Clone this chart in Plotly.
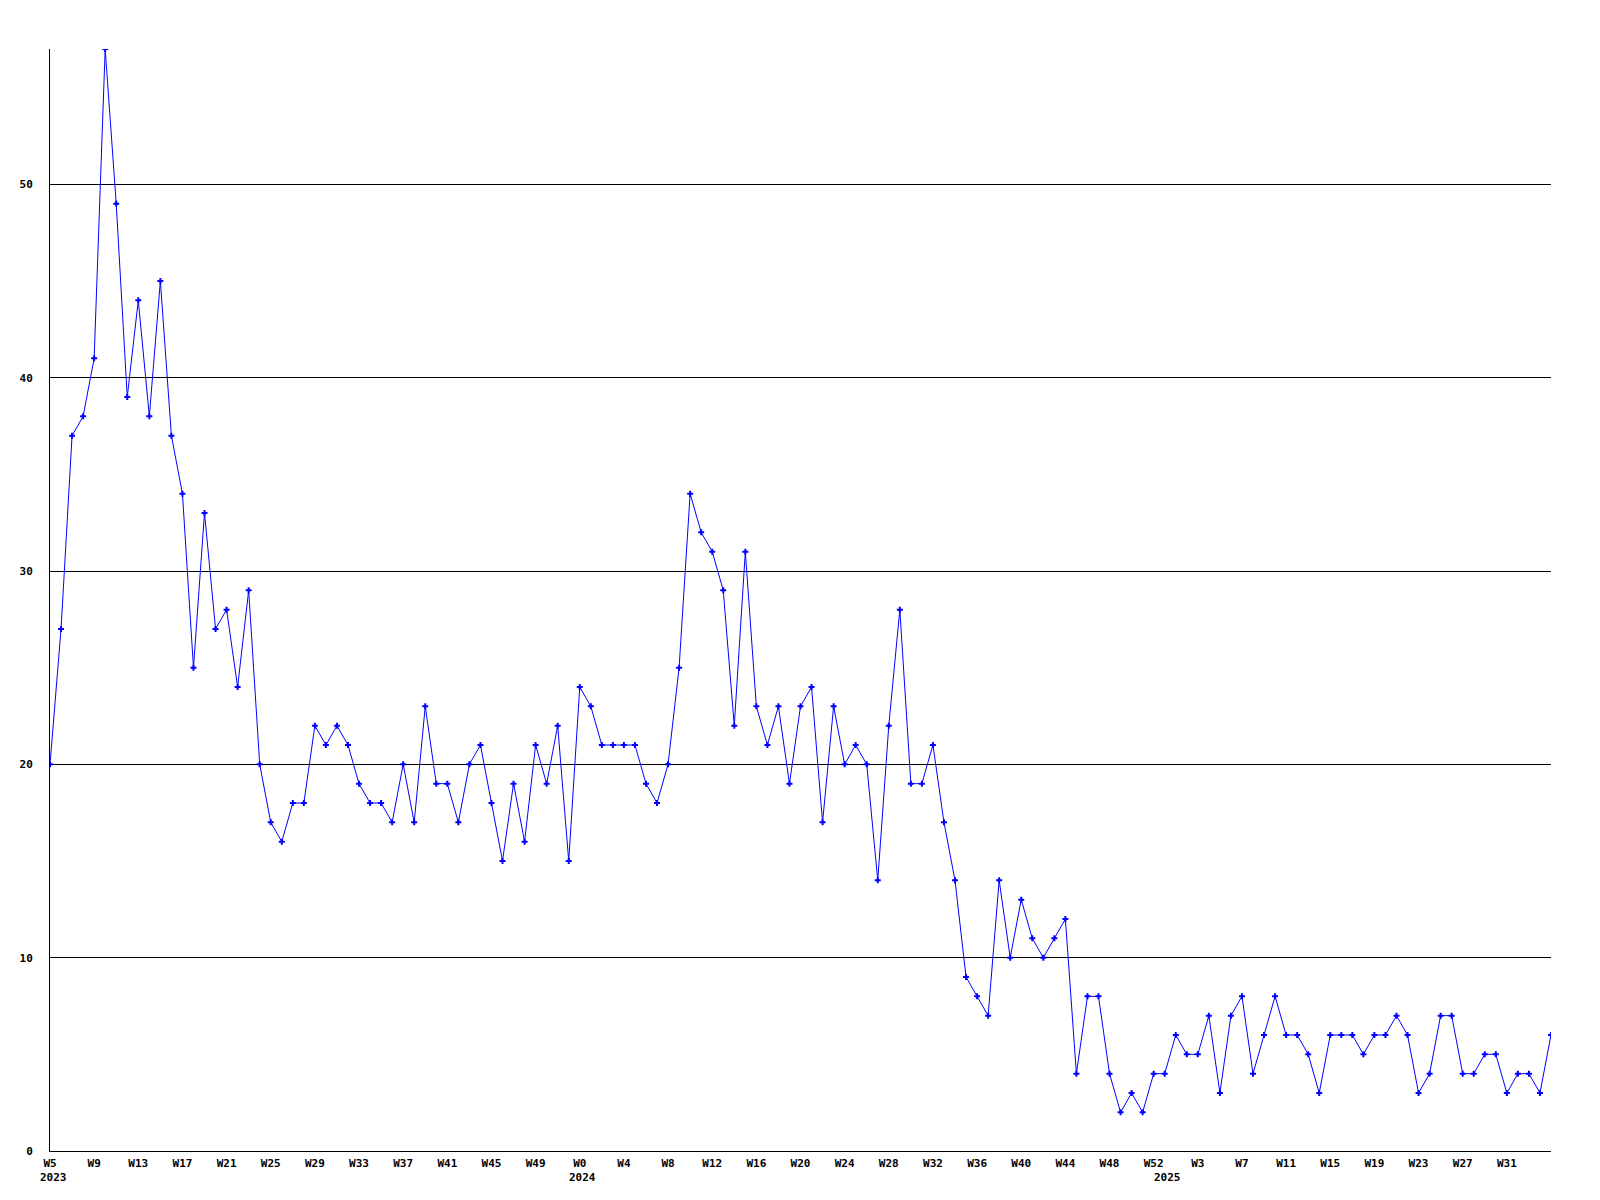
import plotly.graph_objects as go

# Week numbers per year (as labelled on the x axis)
weeks_2023 = list(range(5, 53))   # W5 .. W52
weeks_2024 = list(range(0, 53))   # W0 .. W52
weeks_2025 = list(range(0, 36))   # W0 .. W35

# Weekly counts
counts_2023 = [20, 27, 37, 38, 41, 57, 49, 39, 44, 38,
               45, 37, 34, 25, 33, 27, 28, 24, 29, 20,
               17, 16, 18, 18, 22, 21, 22, 21, 19, 18,
               18, 17, 20, 17, 23, 19, 19, 17, 20, 21,
               18, 15, 19, 16, 21, 19, 22, 15]
counts_2024 = [24, 23, 21, 21, 21, 21, 19, 18, 20, 25,
               34, 32, 31, 29, 22, 31, 23, 21, 23, 19,
               23, 24, 17, 23, 20, 21, 20, 14, 22, 28,
               19, 19, 21, 17, 14, 9, 8, 7, 14, 10,
               13, 11, 10, 11, 12, 4, 8, 8, 4, 2,
               3, 2, 4]
counts_2025 = [4, 6, 5, 5, 7, 3, 7, 8, 4, 6,
               8, 6, 6, 5, 3, 6, 6, 6, 5, 6,
               6, 7, 6, 3, 4, 7, 7, 4, 4, 5,
               5, 3, 4, 4, 3, 6]

years = ["2023", "2024", "2025"]
y_ticks = [0, 10, 20, 30, 40, 50]

week_labels = ([f"W{w}" for w in weeks_2023] + [f"W{w}" for w in weeks_2024]
               + [f"W{w}" for w in weeks_2025])
values = counts_2023 + counts_2024 + counts_2025
idx = list(range(len(values)))
year_starts = [0, len(counts_2023), len(counts_2023) + len(counts_2024)]

# every 4th week gets a label, except the final (partially shown) point
tick_idx = [i for i in idx[::4] if i < len(values) - 1]
tick_txt = [week_labels[i] for i in tick_idx]

FONT = dict(family="DejaVu Sans Mono", size=11, color="black", weight="bold")

fig = go.Figure()
fig.add_trace(go.Scatter(
    x=idx, y=values, mode="lines+markers",
    line=dict(color="#0000ff", width=1),
    marker=dict(symbol="cross", size=5, color="#0000ff", line=dict(width=0)),
    hoverinfo="x+y", showlegend=False,
))

annotations = []
for yr, s in zip(years, year_starts):
    annotations.append(dict(
        x=s, y=0, xref="x", yref="paper", text=yr, showarrow=False,
        xanchor="center", yanchor="middle", xshift=3, yshift=-26, font=FONT,
    ))

fig.update_layout(
    width=1584, height=1184, autosize=False,
    margin=dict(l=42, r=41, t=41, b=41, pad=0),
    paper_bgcolor="white", plot_bgcolor="white",
    font=FONT,
    annotations=annotations,
    xaxis=dict(
        range=[0, len(values) - 1], tickmode="array", tickvals=tick_idx, ticktext=tick_txt,
        showgrid=False, zeroline=False, showline=True, linecolor="black", linewidth=1,
        ticks="", tickangle=0, tickfont=FONT, ticklabelstandoff=2,
    ),
    yaxis=dict(
        range=[0, 57], tickmode="array", tickvals=y_ticks,
        showgrid=True, gridcolor="black", gridwidth=1, zeroline=False,
        showline=True, linecolor="black", linewidth=1,
        ticks="", tickfont=FONT, ticklabelstandoff=14,
    ),
)

fig.write_html("out.html")
